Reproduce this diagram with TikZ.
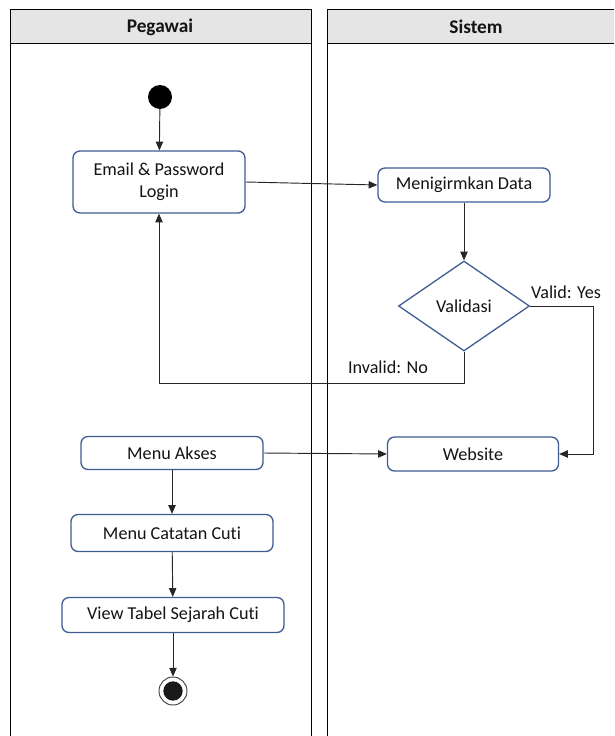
\documentclass[tikz,border=0pt]{standalone}
\usepackage{fontspec}
\setmainfont{Carlito}[Ligatures=NoCommon]
\usepackage{tikz}
\usetikzlibrary{arrows.meta,positioning,calc,shapes.geometric}
\pgfdeclarelayer{bg}
\pgfsetlayers{bg,main}
\definecolor{boxblue}{RGB}{62,92,146}
\definecolor{headgray}{RGB}{229,229,229}
\definecolor{ink}{RGB}{20,20,20}

\begin{document}
\begin{tikzpicture}[x=0.03cm, y=-0.03cm,
    font=\fontsize{15.5}{18.5}\selectfont, text=ink,
    act/.style={draw=boxblue, line width=1.1pt, rounded corners=6pt, fill=white, align=center, inner sep=0pt},
    dec/.style={draw=boxblue, line width=1.1pt, diamond, fill=white, inner sep=0pt, minimum width=3.93cm, minimum height=2.7cm},
    flow/.style={draw=black!85, line width=0.8pt, -{Triangle[length=2.6mm,width=2.2mm]}},
    lane/.style={draw=black, line width=0.8pt},
    head/.style={font=\fontsize{16.5}{19}\selectfont\bfseries}]

    \useasboundingbox (0,0) rectangle (614,736);

    \begin{pgfonlayer}{bg}    % swimlanes
        \draw[lane, fill=headgray] (10,9) rectangle (311,43);
        \draw[lane] (10,43) -- (10,736) (311,43) -- (311,736);
        \path[fill=headgray] (327,9) rectangle (614,43);
        \draw[lane] (614,9) -- (327,9) -- (327,736) (327,43) -- (614,43);
    \end{pgfonlayer}

    \node [head] (pegawai) at (160,27) {Pegawai};
    \node [head] (sistem) at (476,27) {Sistem};

    \node [circle, fill=black, minimum size=0.72cm, inner sep=0pt] (start) at (160,97) {};
    \node [act, minimum width=5.16cm, minimum height=1.86cm] (login) at (159,182) {Email \& Password\\Login};
    \node [act, minimum width=5.16cm, minimum height=1.02cm] (kirim) at (464,185) {Menigirmkan Data};
    \node [dec] (valid) at (464,306) {Validasi};
    \node [act, minimum width=5.13cm, minimum height=1.02cm] (web) at (473,454) {Website};
    \node [act, minimum width=5.46cm, minimum height=0.99cm] (akses) at (172,453) {Menu Akses};
    \node [act, minimum width=6.06cm, minimum height=1.11cm] (catatan) at (172,533) {Menu Catatan Cuti};
    \node [act, minimum width=6.66cm, minimum height=1.05cm] (tabel) at (173,615) {View Tabel Sejarah Cuti};
    \node [circle, draw=black!75, line width=0.8pt, fill=white, minimum size=0.84cm, inner sep=0pt] (end) at (173,691) {};
    \node [circle, fill=black!90, minimum size=0.58cm, inner sep=0pt] (endcore) at (end) {};

    \node (yes) at (566,292) {Valid: Yes};
    \node (no) at (388,367) {Invalid: No};

    \draw[flow] (start) -- (login);
    \draw[flow] (login.east) -- (kirim.west);
    \draw[flow] (kirim) -- (valid);
    \draw[flow] (valid.east) -- ++(63,0) |- (web.east);
    \draw[flow] (valid.south) -- ++(0,32) -| (login.south);
    \draw[flow] (akses.east) -- (web.west);
    \draw[flow] (akses) -- (catatan);
    \draw[flow] (catatan) -- (tabel);
    \draw[flow] (tabel) -- (end);
\end{tikzpicture}
\end{document}
